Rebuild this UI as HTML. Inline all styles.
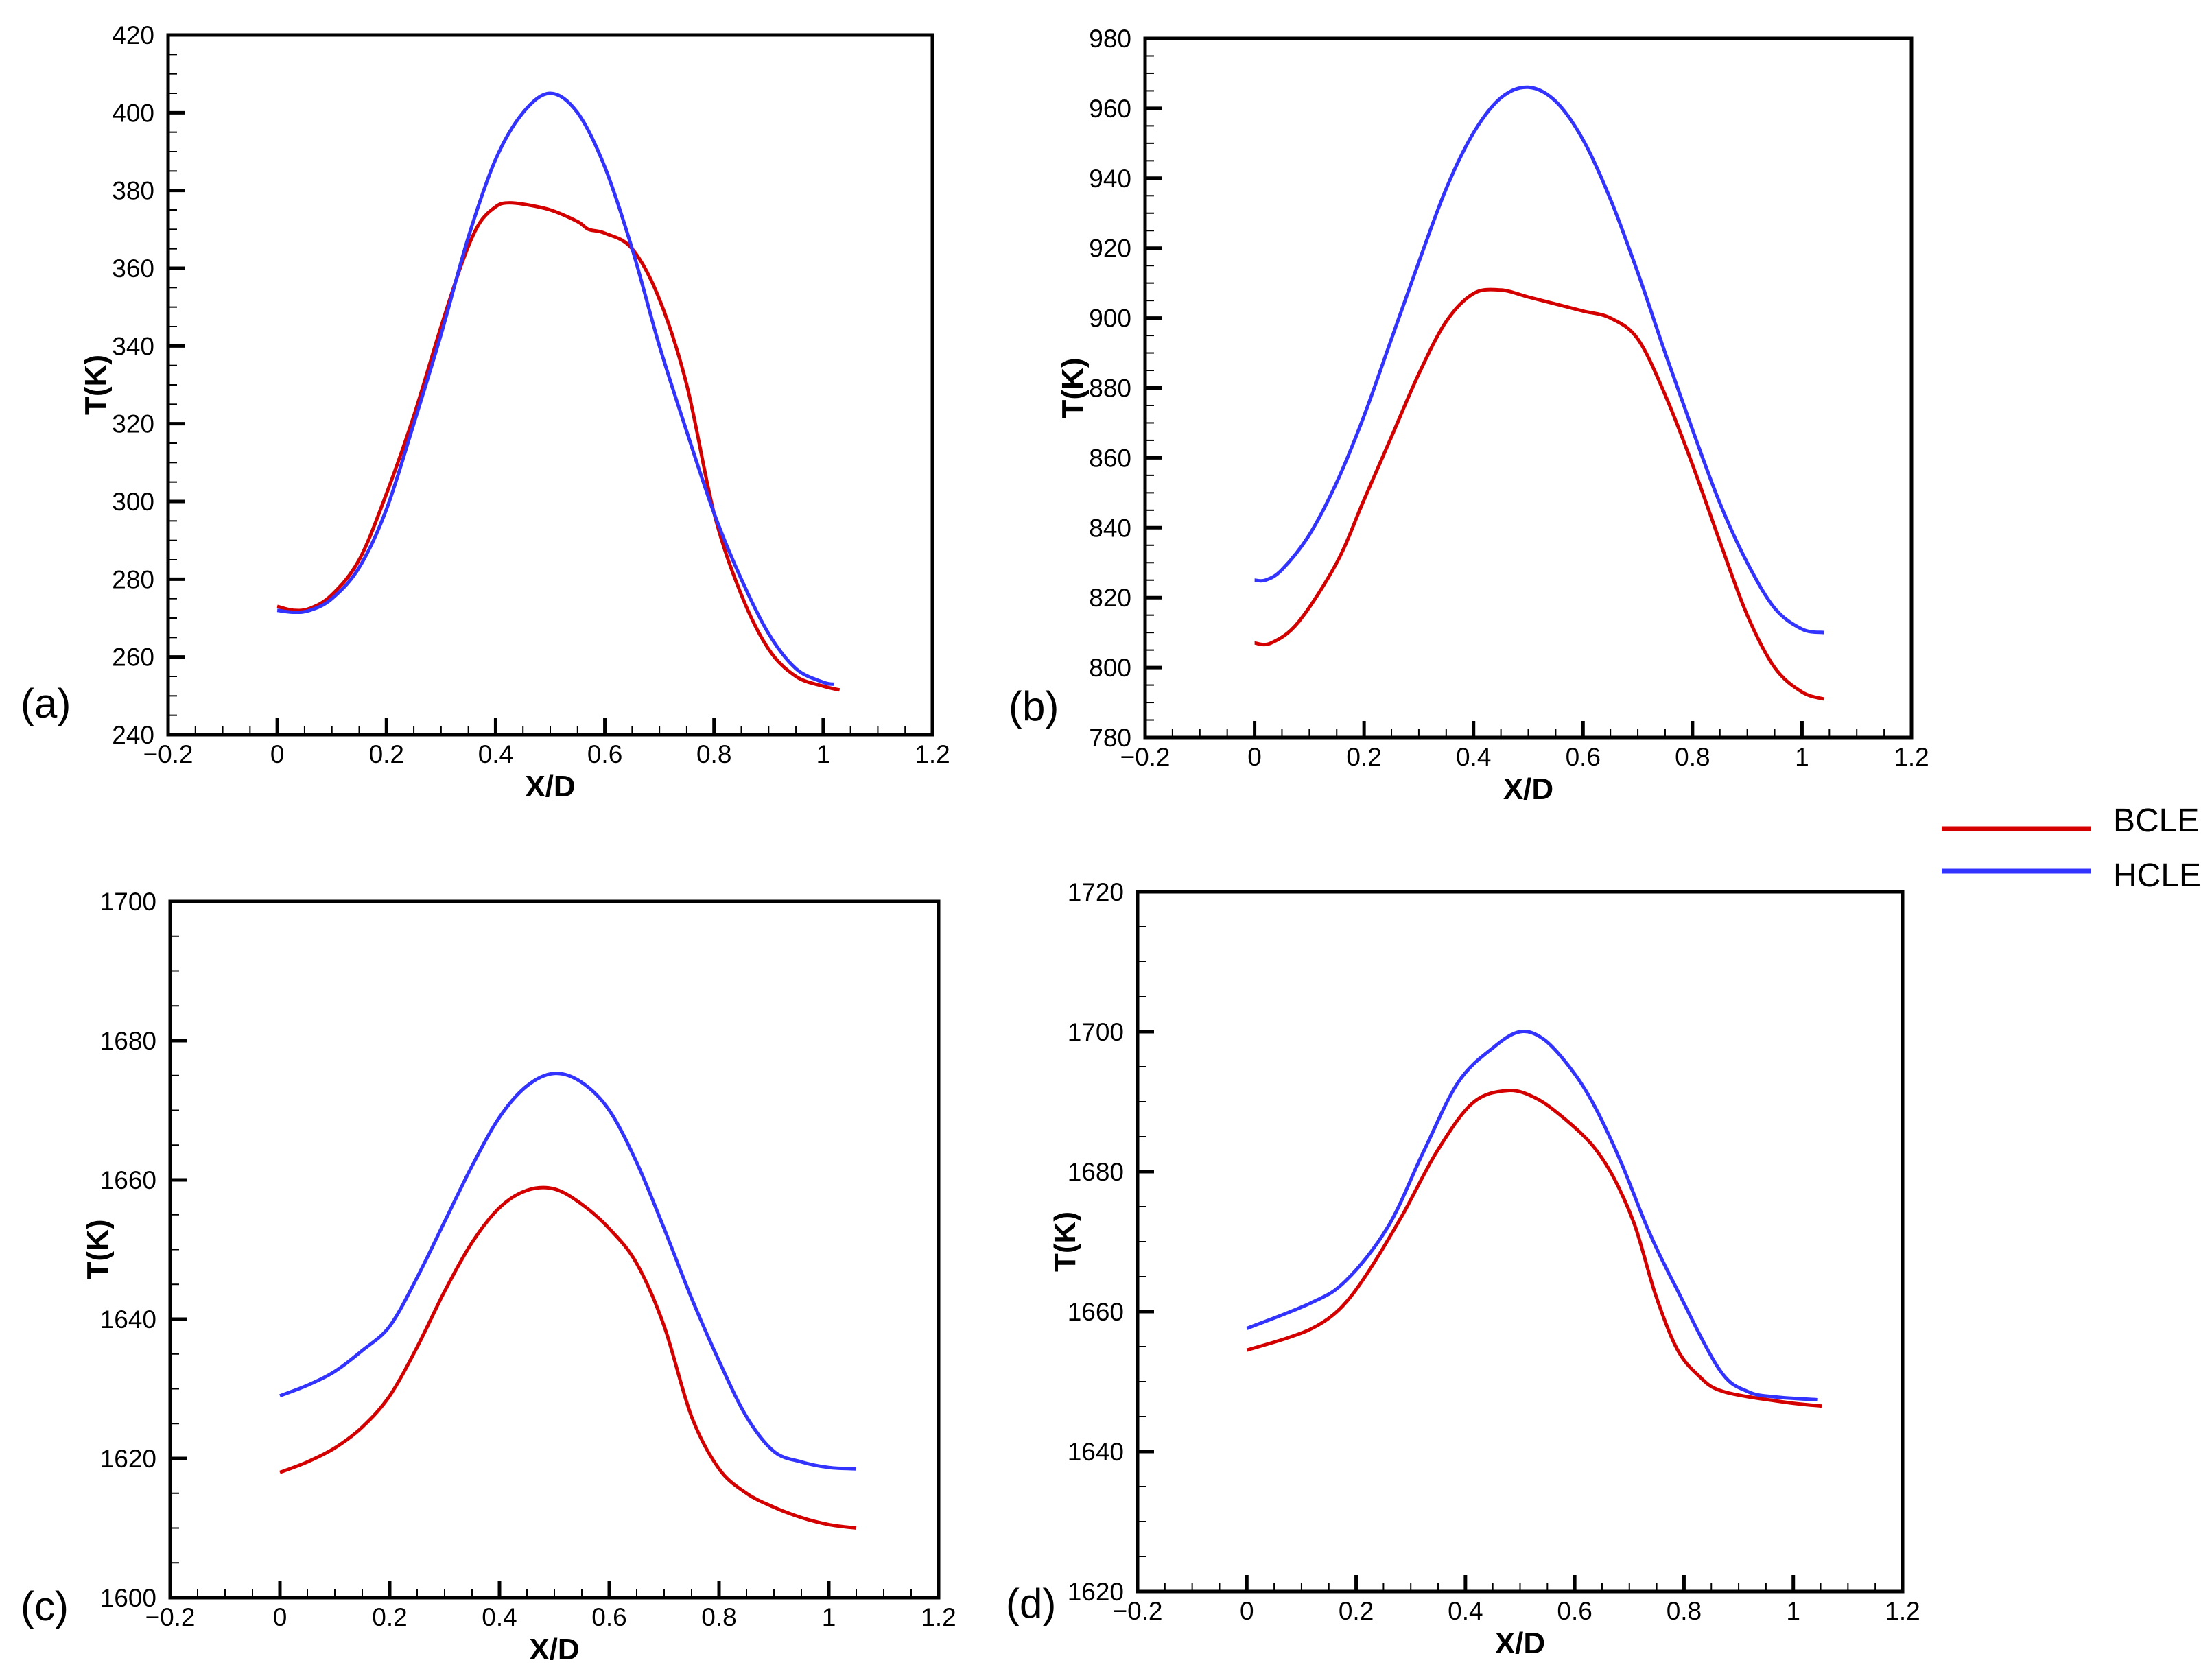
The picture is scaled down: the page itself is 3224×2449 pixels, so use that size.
<!DOCTYPE html>
<html><head><meta charset="utf-8"><style>
html,body{margin:0;padding:0;background:#fff;}
svg{display:block;}
text{font-family:"Liberation Sans",sans-serif;fill:#000;}
</style></head>
<body>
<svg id="fig" width="3224" height="2449" viewBox="0 0 3224 2449" xmlns="http://www.w3.org/2000/svg">
<rect x="0" y="0" width="3224" height="2449" fill="#fff"/>
<g id="legend">
 <line x1="2830" y1="1208" x2="3048" y2="1208" stroke="#d40000" stroke-width="7"/>
 <text x="3080" y="1212" font-size="48">BCLE</text>
 <line x1="2830" y1="1270" x2="3048" y2="1270" stroke="#3333ff" stroke-width="7"/>
 <text x="3080" y="1292" font-size="48">HCLE</text>
</g>
</svg>
<script>
// Panel (a)
const aBcleX=[0,0.03,0.06,0.1,0.15,0.2,0.25,0.3,0.34,0.37,0.4,0.42,0.45,0.5,0.55,0.57,0.6,0.65,0.7,0.75,0.8,0.85,0.9,0.95,1.0,1.03];
const aBcleY=[273,272,272.5,276,285,302,322,345,362,371.5,375.8,376.8,376.5,375,372,370,369,365,352,330,297,276,262,255,252.5,251.5];
const aHcleX=[0,0.03,0.06,0.1,0.15,0.2,0.25,0.3,0.35,0.4,0.45,0.5,0.55,0.6,0.65,0.7,0.75,0.8,0.85,0.9,0.95,1.0,1.02];
const aHcleY=[272,271.5,272,275,283,298,320,343,368,388,400,405,400,386,365,340,318,297,280,266,257,253.5,253];
// Panel (b)
const bBcleX=[0,0.03,0.08,0.15,0.2,0.25,0.3,0.35,0.4,0.45,0.5,0.55,0.6,0.65,0.7,0.75,0.8,0.85,0.9,0.95,1.0,1.04];
const bBcleY=[807,807,813,830,848,866,884,899,907,908,906,904,902,900,894,878,858,836,815,800,793,791];
const bHcleX=[0,0.02,0.05,0.1,0.15,0.2,0.25,0.3,0.35,0.4,0.45,0.5,0.55,0.6,0.65,0.7,0.75,0.8,0.85,0.9,0.95,1.0,1.04];
const bHcleY=[825,825,828,838,853,872,894,916,937,953,963,966,962,951,934,913,890,868,847,830,817,811,810];
// Panel (c)
const cBcleX=[0,0.05,0.1,0.15,0.2,0.25,0.3,0.35,0.4,0.45,0.5,0.55,0.6,0.65,0.7,0.75,0.8,0.85,0.9,0.95,1.0,1.05];
const cBcleY=[1618,1619.5,1621.5,1624.5,1629,1636,1644,1651,1656,1658.5,1658.7,1656.5,1653,1648,1639,1626,1618.5,1615,1613,1611.5,1610.5,1610];
const cHcleX=[0,0.05,0.1,0.15,0.2,0.25,0.3,0.35,0.4,0.45,0.5,0.55,0.6,0.65,0.7,0.75,0.8,0.85,0.9,0.95,1.0,1.05];
const cHcleY=[1629,1630.5,1632.5,1635.5,1639,1646,1654,1662,1669,1673.5,1675.3,1674,1670,1662.5,1653,1643,1634,1626,1621,1619.5,1618.7,1618.5];
// Panel (d)
const dBcleX=[0,0.077,0.129,0.174,0.219,0.284,0.348,0.413,0.477,0.529,0.581,0.632,0.671,0.71,0.748,0.787,0.826,0.871,0.981,1.052];
const dBcleY=[1654.5,1656.3,1658,1660.7,1665.3,1673.7,1682.9,1689.8,1691.6,1690.5,1687.6,1683.8,1679.2,1672.3,1662.4,1654.7,1650.9,1648.6,1647.1,1646.5];
const dHcleX=[0,0.116,0.181,0.258,0.323,0.387,0.452,0.5,0.542,0.587,0.632,0.684,0.735,0.787,0.865,0.916,0.968,1.045];
const dHcleY=[1657.6,1661.2,1664.4,1672.1,1682.8,1692.8,1697.8,1700,1699,1695.3,1690,1681.5,1671.6,1663.2,1651.7,1648.6,1647.8,1647.4];
// Axis tick labels
const xTickLabels=["\u22120.2","0","0.2","0.4","0.6","0.8","1","1.2"];
const xTickValues=[-0.2,0,0.2,0.4,0.6,0.8,1,1.2];
const aYTicks=[240,260,280,300,320,340,360,380,400,420];
const bYTicks=[780,800,820,840,860,880,900,920,940,960,980];
const cYTicks=[1600,1620,1640,1660,1680,1700];
const dYTicks=[1620,1640,1660,1680,1700,1720];

const NS="http://www.w3.org/2000/svg";
const svg=document.getElementById('fig');
function mk(tag,attrs,parent){const e=document.createElementNS(NS,tag);for(const k in attrs)e.setAttribute(k,attrs[k]);(parent||svg).appendChild(e);return e;}

function smoothPath(pts){
  let d="M"+pts[0][0].toFixed(1)+","+pts[0][1].toFixed(1);
  for(let i=0;i<pts.length-1;i++){
    const p0=pts[Math.max(0,i-1)],p1=pts[i],p2=pts[i+1],p3=pts[Math.min(pts.length-1,i+2)];
    const c1x=p1[0]+(p2[0]-p0[0])/6,c1y=p1[1]+(p2[1]-p0[1])/6;
    const c2x=p2[0]-(p3[0]-p1[0])/6,c2y=p2[1]-(p3[1]-p1[1])/6;
    d+=" C"+c1x.toFixed(1)+","+c1y.toFixed(1)+" "+c2x.toFixed(1)+","+c2y.toFixed(1)+" "+p2[0].toFixed(1)+","+p2[1].toFixed(1);
  }
  return d;
}

function panel(id,box,yTicks,series,lab){
  const g=mk('g',{});
  
  
  const L=box.l,R=box.r,T=box.t,B=box.b;
  const xmin=-0.2,xmax=1.2,ymin=yTicks[0],ymax=yTicks[yTicks.length-1];
  const sx=v=>L+(v-xmin)/(xmax-xmin)*(R-L);
  const sy=v=>B-(v-ymin)/(ymax-ymin)*(B-T);
  for(let i=0;i<=28;i++){
    const v=xmin+i*0.05;const x=sx(v);
    const major=(i%4===0);
    const t=mk('line',{x1:x,y1:B,x2:x,y2:B-(major?24:13),stroke:'#000','stroke-width':major?5:2},g);
    
    
  }
  const step=yTicks[1]-yTicks[0];
  for(let i=0;i<(yTicks.length-1)*4+1;i++){
    const v=ymin+i*step/4;const y=sy(v);
    const major=(i%4===0);
    const t=mk('line',{x1:L,y1:y,x2:L+(major?24:13),y2:y,stroke:'#000','stroke-width':major?5:2},g);
    
    
  }
  xTickValues.forEach((v,i)=>{
    const t=mk('text',{x:sx(v),y:B+41,'font-size':37,'text-anchor':'middle'},g);
    t.textContent=xTickLabels[i];
    
    
  });
  yTicks.forEach(v=>{
    const t=mk('text',{x:L-20,y:sy(v)+13,'font-size':37,'text-anchor':'end'},g);
    t.textContent=String(v);
    
    
  });
  series.forEach(s=>{
    const pts=s.x.map((v,i)=>[sx(v),sy(s.y[i])]);
    const p=mk('path',{d:smoothPath(pts),fill:'none',stroke:s.c,'stroke-width':5,'stroke-linejoin':'round'},g);
    
    
  });
  const fr=mk('rect',{x:L,y:T,width:R-L,height:B-T,fill:'none',stroke:'#000','stroke-width':5},g);
  
  
  const xt=mk('text',{x:(L+R)/2,y:B+90,'font-size':44,'font-weight':'bold','text-anchor':'middle'},g);
  xt.textContent='X/D';
  
  
  const yx=L-91,yy=(T+B)/2;
  const yt=mk('text',{x:yx,y:yy,'font-size':44,'font-weight':'bold','text-anchor':'middle',transform:'rotate(-90 '+yx+' '+yy+')'},g);
  yt.textContent='T(K)';
  
  
  const pl=mk('text',{x:lab.x,y:lab.y,'font-size':60},g);
  pl.textContent='('+id+')';
  
  
}
const RED='#d40000',BLUE='#3333ff';
panel('a',{l:245,r:1359,t:51,b:1071},aYTicks,[{x:aBcleX,y:aBcleY,c:RED,n:'bcle'},{x:aHcleX,y:aHcleY,c:BLUE,n:'hcle'}],{x:30,y:1046});
panel('b',{l:1669,r:2786,t:56,b:1075},bYTicks,[{x:bBcleX,y:bBcleY,c:RED,n:'bcle'},{x:bHcleX,y:bHcleY,c:BLUE,n:'hcle'}],{x:1470,y:1050});
panel('c',{l:248,r:1368,t:1314,b:2329},cYTicks,[{x:cBcleX,y:cBcleY,c:RED,n:'bcle'},{x:cHcleX,y:cHcleY,c:BLUE,n:'hcle'}],{x:30,y:2362});
panel('d',{l:1658,r:2773,t:1300,b:2320},dYTicks,[{x:dBcleX,y:dBcleY,c:RED,n:'bcle'},{x:dHcleX,y:dHcleY,c:BLUE,n:'hcle'}],{x:1466,y:2358});
</script>
</body></html>
